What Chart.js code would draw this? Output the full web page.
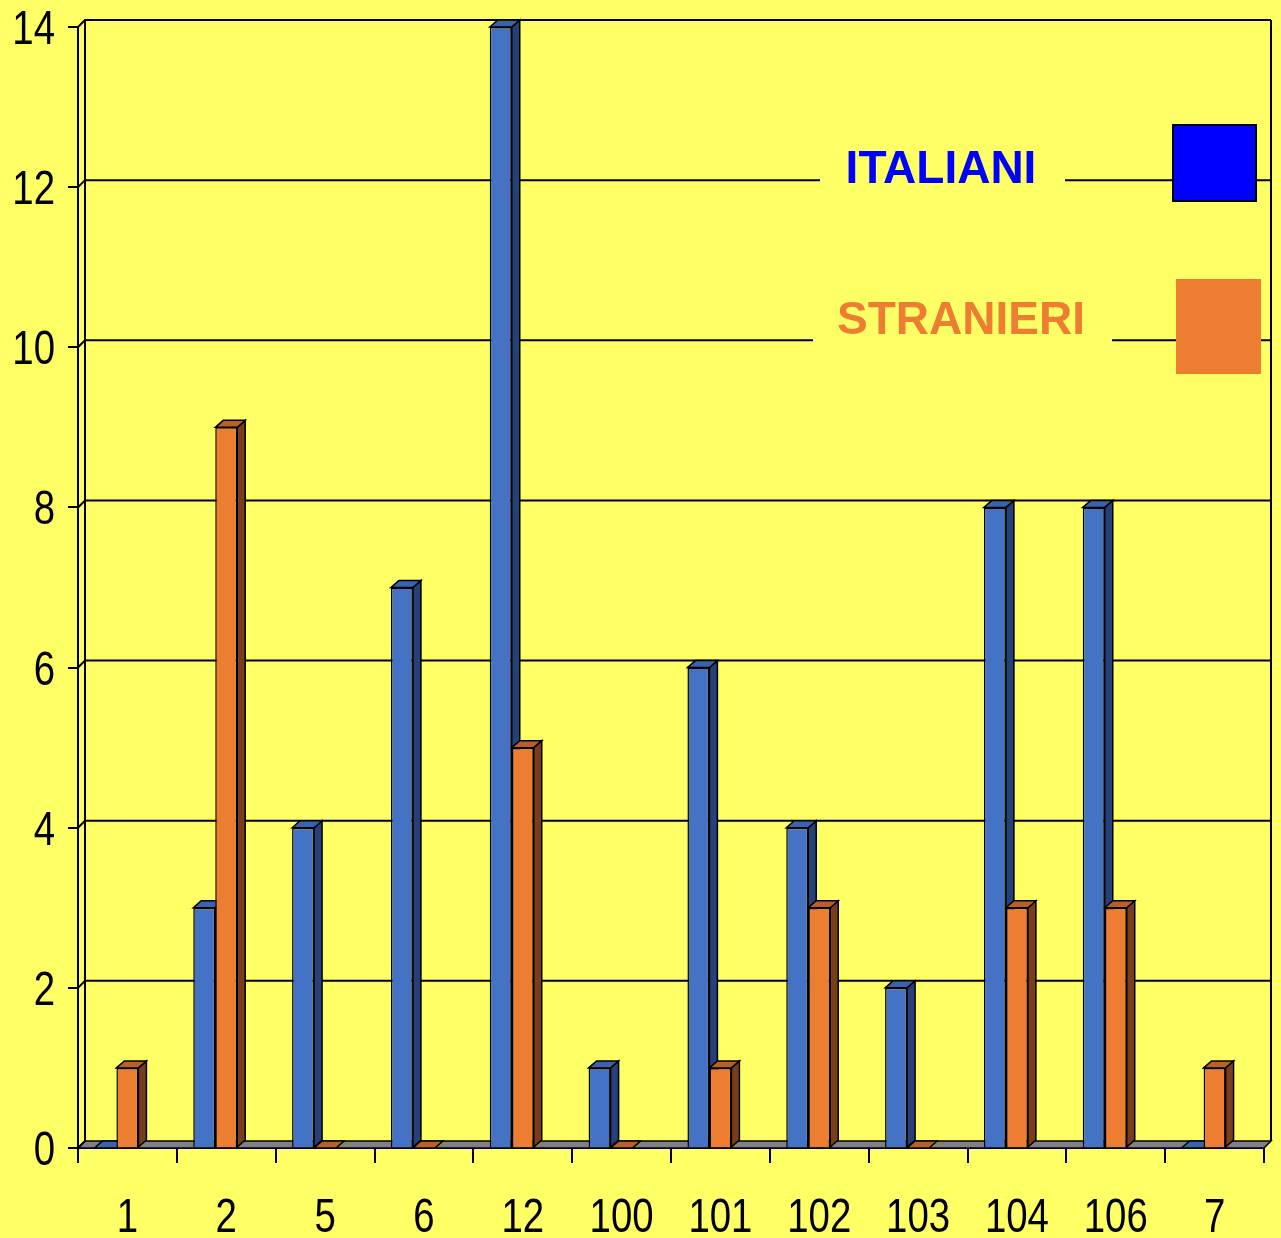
<!DOCTYPE html>
<html>
<head>
<meta charset="utf-8">
<script src="https://cdn.jsdelivr.net/npm/chart.js@4"></script>
<style>
  html, body { margin: 0; padding: 0; background: #ffff66; }
  canvas { display: block; }
</style>
</head>
<body>
<canvas id="chart" width="1281" height="1238"></canvas>
<script>
const categories = ["1", "2", "5", "6", "12", "100", "101", "102", "103", "104", "106", "7"];
const italiani = [0, 3, 4, 7, 14, 1, 6, 4, 2, 8, 8, 0];
const stranieri = [1, 9, 0, 0, 5, 0, 1, 3, 0, 3, 3, 1];
const yMax = 14;
const yStep = 2;

const sideColors = [
  { top: "#3b63ad", side: "#26407a" },
  { top: "#b9602a", side: "#7a3d19" }
];
const depth = 7;
const labelFont = "48px 'Liberation Sans', Arial, sans-serif";
const squeeze = 0.8; // narrow look of the original tick font

function poly(ctx, pts, fill) {
  ctx.beginPath();
  ctx.moveTo(pts[0][0], pts[0][1]);
  for (let i = 1; i < pts.length; i++) ctx.lineTo(pts[i][0], pts[i][1]);
  ctx.closePath();
  ctx.fillStyle = fill;
  ctx.fill();
  ctx.stroke();
}

function narrowText(ctx, text, x, y, align) {
  ctx.save();
  ctx.translate(x, y);
  ctx.scale(squeeze, 1);
  ctx.textAlign = align;
  ctx.textBaseline = "alphabetic";
  ctx.fillText(text, 0, 0);
  ctx.restore();
}

const threeD = {
  id: "threeD",
  afterDatasetsUpdate(chart) {
    // bars sit a bit left of the category centre, like the 3D original
    chart.data.datasets.forEach((ds, d) => {
      chart.getDatasetMeta(d).data.forEach(bar => { bar.x -= 11; });
    });
  },
  beforeDatasetsDraw(chart) {
    const ctx = chart.ctx;
    const a = chart.chartArea;
    const y = chart.scales.y;
    ctx.save();
    ctx.strokeStyle = "#000";

    // floor
    ctx.lineWidth = 1.5;
    poly(ctx, [[a.left, a.bottom], [a.left + depth, a.bottom - depth],
               [a.right + depth, a.bottom - depth], [a.right, a.bottom]], "#808080");

    // back wall grid + left wall
    ctx.lineWidth = 2;
    for (let v = 0; v <= yMax; v += yStep) {
      const py = y.getPixelForValue(v);
      ctx.beginPath();
      ctx.moveTo(a.left, py);
      ctx.lineTo(a.left + depth, py - depth);
      if (v > 0) ctx.lineTo(a.right + depth, py - depth);
      ctx.stroke();
    }
    ctx.beginPath();
    ctx.moveTo(a.left + depth, a.top - depth);
    ctx.lineTo(a.left + depth, a.bottom - depth);
    ctx.moveTo(a.right + depth, a.top - depth);
    ctx.lineTo(a.right + depth, a.bottom - depth);
    ctx.stroke();

    // bar tops and sides
    ctx.lineWidth = 1.5;
    for (let i = 0; i < categories.length; i++) {
      chart.data.datasets.forEach((ds, d) => {
        const bar = chart.getDatasetMeta(d).data[i];
        const x0 = bar.x - bar.width / 2, x1 = bar.x + bar.width / 2;
        const top = bar.y, base = bar.base;
        const c = sideColors[d];
        if (base - top > 0.5) {
          poly(ctx, [[x1, top], [x1 + depth + 1, top - depth],
                     [x1 + depth + 1, base - depth], [x1, base]], c.side);
        }
        poly(ctx, [[x0, top], [x0 + depth + 1, top - depth],
                   [x1 + depth + 1, top - depth], [x1, top]], c.top);
      });
    }
    ctx.restore();
  },
  afterDraw(chart) {
    const ctx = chart.ctx;
    const a = chart.chartArea;
    const x = chart.scales.x;
    const y = chart.scales.y;
    ctx.save();

    // tick labels
    ctx.font = labelFont;
    ctx.fillStyle = "#000";
    x.ticks.forEach((t, i) => {
      narrowText(ctx, categories[i], x.getPixelForTick(i), a.bottom + 84, "center");
    });
    y.ticks.forEach((t, i) => {
      narrowText(ctx, String(t.value), a.left - 23, y.getPixelForTick(i) + 17, "right");
    });

    // legend
    const items = [
      { label: chart.data.datasets[0].label, color: "#0000ff", box: [a.right - 91, 125, 83, 76], border: true, cx: 941, dy: -10, gap: [820, 1065], v: 12 },
      { label: chart.data.datasets[1].label, color: "#ed7d31", box: [a.right - 88, 279, 85, 95], border: false, cx: 961, dy: -19, gap: [813, 1112], v: 10 }
    ];
    items.forEach(it => {
      const gy = y.getPixelForValue(it.v) - depth;
      ctx.fillStyle = "#ffff66";
      ctx.fillRect(it.gap[0], gy - 3, it.gap[1] - it.gap[0], 6);
      ctx.font = "bold 46px 'Liberation Sans', Arial, sans-serif";
      ctx.textAlign = "center";
      ctx.textBaseline = "middle";
      ctx.fillStyle = it.color;
      ctx.fillText(it.label, it.cx, gy + it.dy);
      ctx.fillRect(it.box[0], it.box[1], it.box[2], it.box[3]);
      if (it.border) {
        ctx.strokeStyle = "#000";
        ctx.lineWidth = 2;
        ctx.strokeRect(it.box[0], it.box[1], it.box[2], it.box[3]);
      }
    });
    ctx.restore();
  }
};

const hiddenTicks = { family: "'Liberation Sans', sans-serif", size: 8 };

new Chart(document.getElementById("chart"), {
  type: "bar",
  data: {
    labels: categories,
    datasets: [
      {
        label: "ITALIANI",
        data: italiani,
        backgroundColor: "#4472c4",
        borderColor: "#000",
        borderWidth: 1.5,
        categoryPercentage: 0.445,
        barPercentage: 1
      },
      {
        label: "STRANIERI",
        data: stranieri,
        backgroundColor: "#ed7d31",
        borderColor: "#000",
        borderWidth: 1.5,
        categoryPercentage: 0.445,
        barPercentage: 1
      }
    ]
  },
  options: {
    responsive: false,
    animation: false,
    layout: { padding: { top: 27, right: 17 } },
    plugins: { legend: { display: false }, tooltip: { enabled: false } },
    scales: {
      x: {
        afterFit: s => { s.height = 90; },
        grid: { drawOnChartArea: false, color: "#000", lineWidth: 2, tickLength: 15 },
        border: { color: "#000", width: 2 },
        ticks: { color: "rgba(0,0,0,0)", font: hiddenTicks, padding: 20, maxRotation: 0 }
      },
      y: {
        min: 0,
        max: yMax,
        afterFit: s => { s.width = 78; },
        grid: { drawOnChartArea: false, color: "#000", lineWidth: 2, tickLength: 10 },
        border: { color: "#000", width: 2 },
        ticks: { stepSize: yStep, color: "rgba(0,0,0,0)", font: hiddenTicks, padding: 12 }
      }
    }
  },
  plugins: [threeD]
});
</script>
</body>
</html>
